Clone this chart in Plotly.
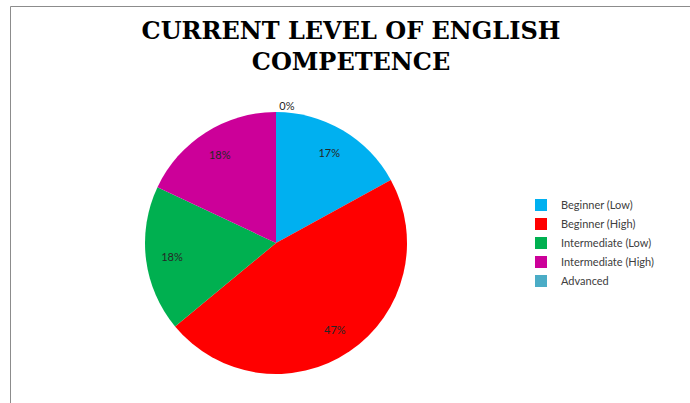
import plotly.graph_objects as go

categories = ["Beginner (Low)", "Beginner (High)", "Intermediate (Low)", "Intermediate (High)", "Advanced"]
values = [17, 47, 18, 18, 0]
colors = ["#00B0F0", "#FF0000", "#00B050", "#CC0099", "#4BACC6"]
title_text = "CURRENT LEVEL OF ENGLISH<br>COMPETENCE"

W, H = 690, 403

def px(x):
    return x / W

def py(y):
    return 1 - y / H

dom = dict(x=[px(144), px(408)], y=[py(374), py(112)])

# coloured slices + legend
base = go.Pie(
    labels=categories,
    values=values,
    sort=False,
    direction="clockwise",
    rotation=0,
    marker=dict(colors=colors, line=dict(width=0)),
    textinfo="none",
    hoverinfo="label+value+percent",
    domain=dom,
    showlegend=True,
)

# percentage labels (same slices, transparent, ring so labels sit further out)
labels_layer = go.Pie(
    labels=categories,
    values=values,
    sort=False,
    direction="clockwise",
    rotation=0,
    hole=0.6,
    marker=dict(colors=["rgba(0,0,0,0)"] * len(values), line=dict(width=0)),
    texttemplate="%{percent:.0%}",
    textposition=["inside", "inside", "inside", "inside", "outside"],
    insidetextorientation="horizontal",
    textfont=dict(family="Lato", size=11, color="#262626"),
    hoverinfo="skip",
    domain=dom,
    showlegend=False,
)

fig = go.Figure([base, labels_layer])

fig.update_layout(
    width=W, height=H,
    margin=dict(l=0, r=0, t=0, b=0),
    paper_bgcolor="white",
    plot_bgcolor="white",
    title=dict(
        text=title_text,
        x=px(351), xanchor="center", xref="paper",
        y=py(39), yanchor="top", yref="container",
        font=dict(family="DejaVu Serif", size=24, color="black", weight="bold"),
    ),
    legend=dict(
        x=px(521), xanchor="left",
        y=py(243), yanchor="middle",
        font=dict(family="Lato", size=11, color="#404040"),
        bgcolor="rgba(0,0,0,0)",
        itemclick=False,
    ),
    shapes=[
        dict(type="line", xref="paper", yref="paper", x0=px(10.5), x1=1, y0=py(6.5), y1=py(6.5),
             line=dict(color="#8C8C8C", width=1)),
        dict(type="line", xref="paper", yref="paper", x0=px(10.5), x1=px(10.5), y0=py(6.5), y1=0,
             line=dict(color="#8C8C8C", width=1)),
    ],
)

fig.write_html("out.html", config={"displayModeBar": False},
               post_script="document.body.style.margin='0';")
